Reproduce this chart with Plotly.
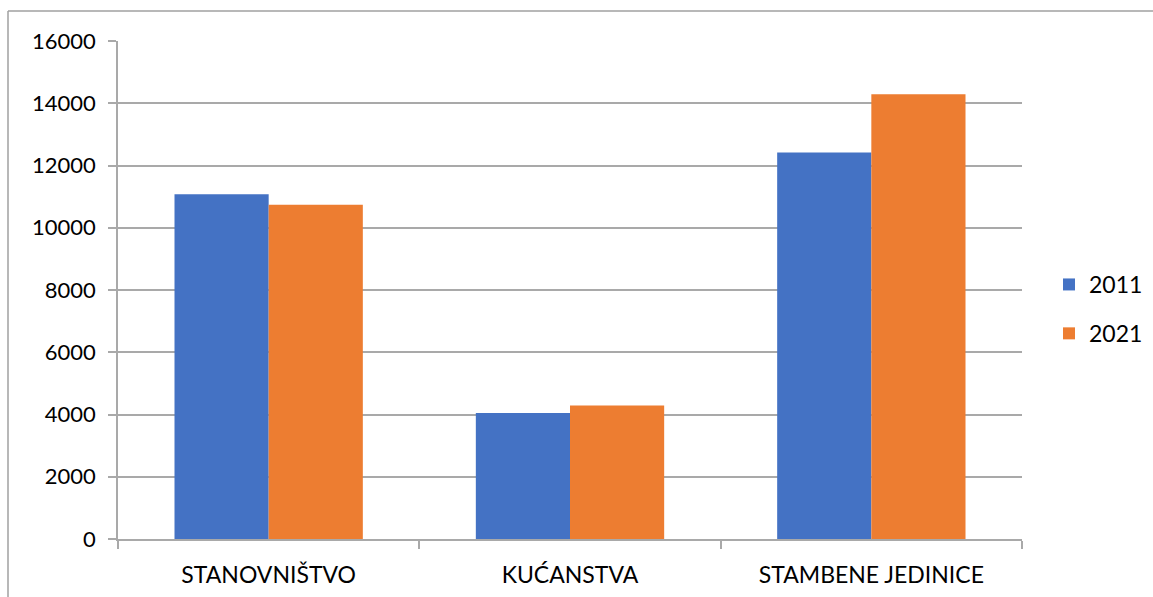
import plotly.graph_objects as go

categories = ["STANOVNIŠTVO", "KUĆANSTVA", "STAMBENE JEDINICE"]
values_2011 = [11080, 4050, 12420]
values_2021 = [10740, 4290, 14290]
y_ticks = [0, 2000, 4000, 6000, 8000, 10000, 12000, 14000, 16000]

W, H = 1153, 597
L, R, T, B = 118, 131, 41, 58
pw, ph = W - L - R, H - T - B

def px_x(p):
    return (p - L) / pw

def px_y(p):
    return (H - B - p) / ph

FONT = "Lato, Calibri, 'Open Sans', sans-serif"
GRID = "#a9a9a9"

fig = go.Figure()
fig.add_trace(go.Bar(x=categories, y=values_2011, name="2011",
                     marker=dict(color="#4472C4", line=dict(width=0)),
                     legendgroup="a"))
fig.add_trace(go.Bar(x=categories, y=values_2021, name="2021",
                     marker=dict(color="#ED7D31", line=dict(width=0)),
                     legendgroup="b"))

fig.update_layout(
    width=W, height=H,
    margin=dict(l=L, r=R, t=T, b=B, pad=0, autoexpand=False),
    paper_bgcolor="white", plot_bgcolor="white",
    barmode="group", bargap=0.375, bargroupgap=0,
    font=dict(family=FONT, size=22, color="#000000"),
    legend=dict(x=px_x(1049), y=px_y(309), xanchor="left", yanchor="middle",
                traceorder="grouped", tracegroupgap=16,
                font=dict(size=23), bgcolor="rgba(0,0,0,0)"),
    xaxis=dict(type="category", tickson="boundaries", ticks="outside",
               ticklen=8, tickcolor=GRID, tickwidth=1.5,
               showline=True, linecolor=GRID, linewidth=1.5,
               showgrid=False, ticklabelstandoff=15,
               tickfont=dict(size=23)),
    yaxis=dict(range=[0, 16000], tickvals=y_ticks,
               ticktext=[str(v) for v in y_ticks],
               ticks="outside", ticklen=8, tickcolor=GRID, tickwidth=1.5,
               showline=True, linecolor=GRID, linewidth=1.5,
               showgrid=True, gridcolor=GRID, gridwidth=1.5,
               zeroline=False, ticklabelstandoff=8),
    shapes=[
        dict(type="line", xref="paper", yref="paper",
             x0=px_x(8), x1=px_x(W + 5), y0=px_y(11), y1=px_y(11),
             line=dict(color="#a0a0a0", width=1.5)),
        dict(type="line", xref="paper", yref="paper",
             x0=px_x(8), x1=px_x(8), y0=px_y(11), y1=px_y(H + 5),
             line=dict(color="#a0a0a0", width=1.5)),
    ],
)

fig.write_html("out.html", config={"displayModeBar": False},
               post_script="document.body.style.margin='0';document.body.style.overflow='hidden';")
